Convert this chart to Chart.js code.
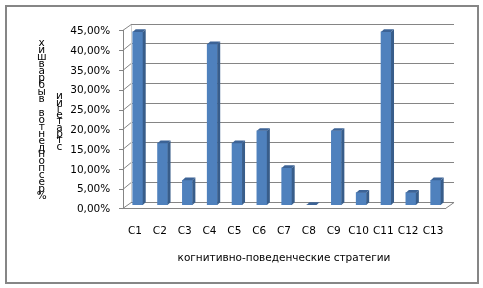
<!DOCTYPE html>
<html>
<head>
<meta charset="utf-8">
<script src="https://cdn.jsdelivr.net/npm/chart.js@4"></script>
<style>
  html, body { margin: 0; padding: 0; background: #fff; }
  canvas { display: block; }
</style>
</head>
<body>
<canvas id="chart" width="483" height="288"></canvas>
<script>
// Data (share of respondents, %)
const categories = ['C1', 'C2', 'C3', 'C4', 'C5', 'C6', 'C7', 'C8', 'C9', 'C10', 'C11', 'C12', 'C13'];
const shares = [43.75, 15.625, 6.25, 40.625, 15.625, 18.75, 9.375, 0, 18.75, 3.125, 43.75, 3.125, 6.25];
const yTicks = [0, 5, 10, 15, 20, 25, 30, 35, 40, 45];
const xTitle = 'когнитивно-поведенческие стратегии';
const yTitleLines = ['%респондентов выбравших', 'стратегии'];

const FONT = '10.5px "DejaVu Sans"';
const GRID = '#858585';
// 3d depth: front plane is (-4.25, +3.4) from the bars, back wall (+4.25, -3.4)
const HDX = 4.25, HDY = 3.4;
const SHIFT = 1.7;
const BAR_DX = 3, BAR_DY = -2.7;

function fmt(v) {
    return v.toFixed(2).replace('.', ',') + '%';
}

function line(ctx, x1, y1, x2, y2) {
    ctx.beginPath();
    ctx.moveTo(x1, y1);
    ctx.lineTo(x2, y2);
    ctx.stroke();
}

// horizontal 1px line as a filled strip
function hbar(ctx, x1, x2, y) {
    ctx.fillRect(Math.round(x1), Math.round(y), Math.round(x2 - x1), 1);
}

const frame = {
    id: 'frame',
    beforeDraw(chart) {
        const ctx = chart.ctx;
        ctx.save();
        ctx.fillStyle = '#fff';
        ctx.fillRect(0, 0, chart.width, chart.height);
        ctx.strokeStyle = '#868686';
        ctx.lineWidth = 2;
        ctx.strokeRect(6, 6, 472, 277);
        ctx.restore();
    },
    beforeDatasetsDraw(chart) {
        const ctx = chart.ctx;
        const a = chart.chartArea;
        const ys = chart.scales.y;
        const frontL = a.left - HDX + SHIFT;
        const backL = a.left + HDX + SHIFT;
        const frontR = a.right - HDX + SHIFT;
        const backR = a.right + HDX + SHIFT;

        ctx.save();
        ctx.lineWidth = 1;
        ctx.strokeStyle = GRID;
        ctx.fillStyle = GRID;
        yTicks.forEach(v => {
            const py = ys.getPixelForValue(v);
            const by = Math.round(py - HDY);
            const fy = Math.round(py + HDY);
            hbar(ctx, backL, backR, by);
            line(ctx, frontL, fy + 0.5, backL, by + 0.5);
            hbar(ctx, frontL - 4, frontL, fy);
        });
        const yTop = ys.getPixelForValue(yTicks[yTicks.length - 1]);
        const yZero = ys.getPixelForValue(0);
        const fz = Math.round(yZero + HDY);
        ctx.fillRect(Math.round(frontL), Math.round(yTop + HDY), 1, fz - Math.round(yTop + HDY) + 1);
        hbar(ctx, frontL, frontR, fz);
        line(ctx, frontR, fz + 0.5, backR, Math.round(yZero - HDY) + 0.5);
        ctx.fillStyle = '#cfcfcf';
        const byTop = Math.round(yTop - HDY) + 1;
        ctx.fillRect(Math.round(backL), byTop, 1, Math.round(yZero - HDY) - byTop);
        ctx.restore();
    },
    afterDatasetsDraw(chart) {
        // side and top faces of the columns
        const ctx = chart.ctx;
        const meta = chart.getDatasetMeta(0);
        ctx.save();
        meta.data.forEach(bar => {
            const l = bar.x - bar.width / 2;
            const r = bar.x + bar.width / 2;
            const t = bar.y;
            const b = bar.base;
            ctx.fillStyle = '#385d8a';
            ctx.beginPath();
            ctx.moveTo(r, t);
            ctx.lineTo(r + BAR_DX, t + BAR_DY);
            ctx.lineTo(r + BAR_DX, b + BAR_DY);
            ctx.lineTo(r, b);
            ctx.closePath();
            ctx.fill();
            ctx.fillStyle = '#3c6396';
            ctx.beginPath();
            ctx.moveTo(l, t);
            ctx.lineTo(l + BAR_DX, t + BAR_DY);
            ctx.lineTo(r + BAR_DX, t + BAR_DY);
            ctx.lineTo(r, t);
            ctx.closePath();
            ctx.fill();
        });
        ctx.restore();
    },
    afterDraw(chart) {
        const ctx = chart.ctx;
        const a = chart.chartArea;
        const ys = chart.scales.y;
        const xs = chart.scales.x;
        const frontL = a.left - HDX + SHIFT;
        ctx.save();
        ctx.fillStyle = '#000';
        ctx.font = FONT;
        ctx.textAlign = 'right';
        ctx.textBaseline = 'middle';
        yTicks.forEach(v => {
            ctx.fillText(fmt(v), frontL - 12.5, ys.getPixelForValue(v) + HDY + 1);
        });
        ctx.textAlign = 'center';
        categories.forEach((c, i) => {
            ctx.fillText(c, xs.getPixelForValue(i) - 2.7, 231);
        });
        ctx.fillText(xTitle, 284, 258);

        // vertical title: stacked upright letters, read from the bottom up
        const cols = [
            { cx: 41.7, cy: 120, step: 6.95 },
            { cx: 59.5, cy: 121.7, step: 6.3 }
        ];
        yTitleLines.forEach((txt, k) => {
            const chars = Array.from(txt).reverse();
            const c = cols[k];
            const y0 = c.cy - (chars.length - 1) * c.step / 2;
            chars.forEach((ch, j) => ctx.fillText(ch, c.cx, y0 + j * c.step));
        });
        ctx.restore();
    }
};

new Chart(document.getElementById('chart'), {
    type: 'bar',
    data: {
        labels: categories,
        datasets: [{
            data: shares,
            backgroundColor: '#4f81bd',
            borderWidth: 0,
            barThickness: 10
        }]
    },
    options: {
        responsive: false,
        animation: false,
        layout: {
            padding: { left: 125.3, right: 34.9, top: 27, bottom: 83 }
        },
        plugins: {
            legend: { display: false },
            tooltip: { enabled: false }
        },
        scales: {
            x: { display: false },
            y: { display: false, min: 0, max: 45 }
        }
    },
    plugins: [frame]
});
</script>
</body>
</html>
